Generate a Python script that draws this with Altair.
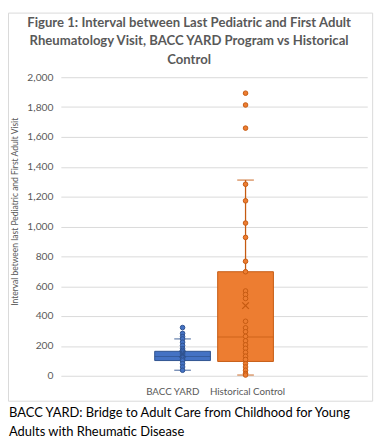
import altair as alt
import pandas as pd

categories = ["BACC YARD", "Historical Control"]
q1 = [102, 96]
median = [129, 260]
q3 = [164, 697]
whisker_low = [37, 5]
whisker_high = [247, 1311]
mean = [145, 470]

bacc_points = [323, 284, 262, 247, 225, 203, 181, 170, 160, 150, 140, 130, 120, 110, 100, 81, 59, 37]
hist_points = [1893, 1814, 1659, 1283, 1172, 1023, 927, 767, 697, 568, 544, 518, 365, 321,
               295, 264, 234, 207, 184, 157, 131, 109, 81, 59, 37, 15, 5]

fill_colors = ["#4472C4", "#ED7D31"]
stroke_colors = ["#2F528F", "#C55A11"]
y_ticks = [0, 200, 400, 600, 800, 1000, 1200, 1400, 1600, 1800, 2000]

title_lines = ["Figure 1: Interval between Last Pediatric and First Adult",
               "Rheumatology Visit, BACC YARD Program vs Historical",
               "Control"]
caption_lines = ["BACC YARD: Bridge to Adult Care from Childhood for Young",
                 "Adults with Rheumatic Disease"]
y_title = "Interval between last Pediatric and First Adult Visit"

FONT = "Lato"
GRAY = "#595959"

stats = pd.DataFrame({
    "category": categories, "q1": q1, "median": median, "q3": q3,
    "lo": whisker_low, "hi": whisker_high, "mean": mean,
})
points = pd.DataFrame({
    "category": [categories[0]] * len(bacc_points) + [categories[1]] * len(hist_points),
    "value": bacc_points + hist_points,
})
one = pd.DataFrame({"k": [0]})

# blank slots either side keep the two boxes near the middle, as in the original
x_domain = [" "] + categories + ["  "]
xscale = alt.Scale(type="band", domain=x_domain, paddingInner=0.115, paddingOuter=0.49)
xenc = alt.X("category:N", scale=xscale,
             axis=alt.Axis(title=None, labelAngle=0, ticks=False, domain=False, grid=False,
                           labelFont=FONT, labelFontSize=10, labelColor=GRAY, labelPadding=11,
                           labelOffset={"condition": {"test": "datum.value == 'BACC YARD'", "value": -10},
                                        "value": 2}))

yaxis = alt.Axis(values=y_ticks, format=",d", title=y_title, grid=True, gridColor="#d9d9d9",
                 domain=False, ticks=False, labelPadding=8, labelFont=FONT, labelFontSize=10.5,
                 labelColor=GRAY, titleFont=FONT, titleFontSize=8.7, titleFontWeight="normal",
                 titleColor=GRAY, titleX=-47, titleY=137, titleAngle=270, titleAlign="center",
                 titleBaseline="middle")
yscale = alt.Scale(domain=[0, 2000], nice=False, zero=True)


def Y(field):
    return alt.Y(f"{field}:Q", scale=yscale, axis=yaxis)


fill_enc = alt.Fill("category:N", scale=alt.Scale(domain=categories, range=fill_colors), legend=None)
stroke_enc = alt.Stroke("category:N", scale=alt.Scale(domain=categories, range=stroke_colors), legend=None)
color_enc = alt.Color("category:N", scale=alt.Scale(domain=categories, range=stroke_colors), legend=None)

base = alt.Chart(stats)

whisk = base.mark_rule(strokeWidth=1.3).encode(x=xenc, y=Y("lo"), y2="hi", stroke=stroke_enc)
cap_lo = base.mark_tick(orient="horizontal", size=17, thickness=1.3).encode(x=xenc, y=Y("lo"), color=color_enc)
cap_hi = base.mark_tick(orient="horizontal", size=17, thickness=1.3).encode(x=xenc, y=Y("hi"), color=color_enc)
box = base.mark_bar(strokeWidth=1).encode(x=xenc, y=Y("q1"), y2="q3", fill=fill_enc, stroke=stroke_enc)
med = base.mark_tick(orient="horizontal", size=57, thickness=1).encode(x=xenc, y=Y("median"), color=color_enc)

pts = alt.Chart(points).mark_point(filled=True, size=22, strokeWidth=1, opacity=1).encode(
    x=xenc, y=Y("value"), fill=fill_enc, stroke=stroke_enc)

mean_mark = base.mark_point(shape="M-1,-1L1,1M-1,1L1,-1", size=45, filled=False, strokeWidth=1.3, opacity=1).encode(
    x=xenc, y=Y("mean"), stroke=stroke_enc)

border = alt.Chart(one).mark_rect(fill="white", fillOpacity=0, stroke="#d9d9d9", strokeWidth=1).encode(
    x=alt.value(-53.5), x2=alt.value(318.5), y=alt.value(-65.5), y2=alt.value(331))

title = alt.Chart(one).mark_text(text=title_lines, font=FONT, fontSize=13.4, fontWeight="bold",
                                 color=GRAY, align="center", baseline="top", lineHeight=18.5).encode(
    x=alt.value(131), y=alt.value(-62))

caption = alt.Chart(one).mark_text(text=caption_lines, font=FONT, fontSize=13.2, color="#000000",
                                   align="left", baseline="top", lineHeight=20).encode(
    x=alt.value(-53), y=alt.value(337))

chart = alt.layer(border, whisk, cap_lo, cap_hi, box, med, pts, mean_mark, title, caption).properties(
    width=313, height=305,
    autosize=alt.AutoSizeParams(type="none"),
    padding={"left": 54, "top": 66, "right": 12, "bottom": 66},
).configure_view(stroke=None)

chart.save("out.html", embed_options={"renderer": "svg", "actions": False})
